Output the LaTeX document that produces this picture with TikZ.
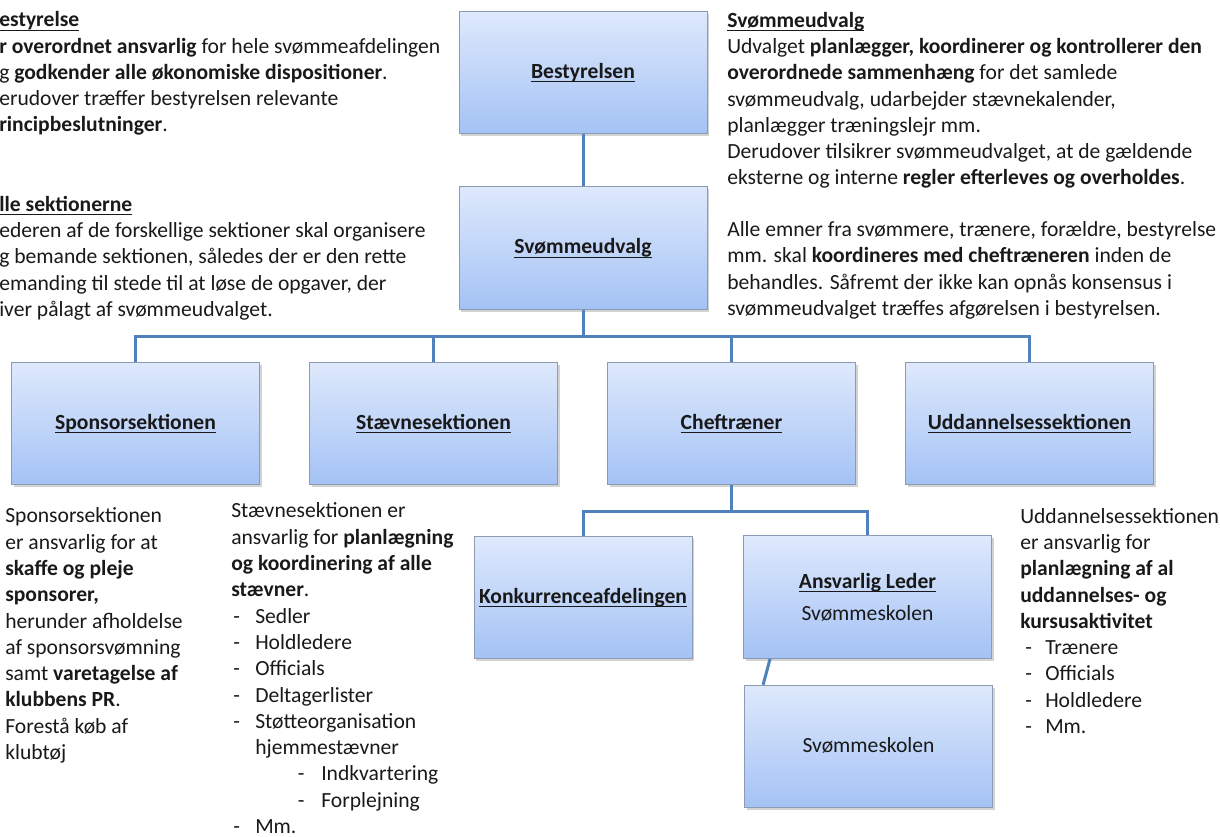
\documentclass[tikz,border=0pt]{standalone}
\usepackage{fontspec}
\setmainfont{Carlito}
\usetikzlibrary{shadows,calc}
\definecolor{boxtop}{RGB}{222,233,252}
\definecolor{boxbot}{RGB}{164,194,245}
\definecolor{boxline}{RGB}{140,155,180}
\definecolor{conncol}{RGB}{79,129,189}
\definecolor{txtcol}{RGB}{25,25,25}
\newcommand{\ulx}[1]{\setbox0\hbox{#1}\rlap{\smash{\rule[-3pt]{\wd0}{0.9pt}}}\box0}
\newcommand{\lbl}[1]{\vphantom{Bg}\ulx{\textbf{#1}}}
\newcommand{\mybody}{\fontsize{16.2pt}{19.72pt}\selectfont\lineskiplimit=-20pt\lineskip=0pt}
\newcommand{\litem}[1]{\hspace*{1.5pt}\makebox[16.5pt][l]{-}#1}
\newcommand{\sitem}[1]{\hspace*{50pt}\makebox[17.5pt][l]{-}#1}
\newcommand{\uitem}[1]{\hspace*{3.75pt}\makebox[15pt][l]{-}#1}
\begin{document}
\begin{tikzpicture}[x=0.75pt,y=-0.75pt,
  orgbox/.style={draw=boxline, line width=0.6pt, top color=boxtop, bottom color=boxbot,
    drop shadow={shadow xshift=1.8pt,shadow yshift=-1.8pt,opacity=0.35},
    minimum width=186pt, minimum height=92pt, inner sep=0pt, align=center,
    font=\mybody, text=txtcol},
  conn/.style={draw=conncol, line width=2.25pt},
  para/.style={anchor=base west, align=left, inner sep=0pt, font=\mybody, text=txtcol}]
\useasboundingbox (0,0) rectangle (1220,837);
\clip (0,0) rectangle (1220,837);

% boxes
\node[orgbox] (best) at (583,72.5) {\lbl{Bestyrelsen}};
\node[orgbox] (svu) at (583,248) {\lbl{Svømmeudvalg}};
\node[orgbox] (spon) at (135.5,423.5) {\lbl{Sponsorsektionen}};
\node[orgbox] (stae) at (433.5,423.5) {\lbl{Stævnesektionen}};
\node[orgbox] (chef) at (731.5,423.5) {\lbl{Cheftræner}};
\node[orgbox] (udd) at (1029.5,423.5) {\lbl{Uddannelsessektionen}};
\node[orgbox, minimum width=163.5pt] (konk) at (583,597.5) {\lbl{Konkurrenceafdelingen}};
\node[orgbox] (ansv) at (867.5,597) {\ulx{\textbf{Ansvarlig Leder}}\\[4.3pt]Svømmeskolen};
\node[orgbox] (skole) at (868.5,746.5) {\vphantom{Bg}Svømmeskolen};

% connectors
\coordinate (b1) at (583,337);
\coordinate (b2) at (731.5,511);
\draw[conn] (best.south) -- (svu.north);
\draw[conn] (svu.south) -- (b1);
\draw[conn] (spon.north) |- (b1);
\draw[conn] (stae.north) |- (b1);
\draw[conn] (chef.north) |- (b1);
\draw[conn] (udd.north) |- (b1);
\draw[conn] (chef.south) -- (b2);
\draw[conn] (konk.north) |- (b2);
\draw[conn] (ansv.north) |- (b2);
\draw[conn] ($(ansv.south west)+(27,0)$) -- ($(skole.north west)+(19,0)$);

% texts (anchor = baseline of last line)
\node[para] (t1) at (-1,132) {\ulx{\textbf{estyrelse}}\\
\textbf{r overordnet ansvarlig} for hele svømmeafdelingen\\
g \textbf{godkender alle økonomiske dispositioner}.\\
erudover træffer bestyrelsen relevante\\
\textbf{rincipbeslutninger}.};
\node[para] (t2) at (-1,316.5) {\ulx{\textbf{lle sektionerne}}\\
ederen af de forskellige sektioner skal organisere\\
g bemande sektionen, således der er den rette\\
emanding til stede til at løse de opgaver, der\\
iver pålagt af svømmeudvalget.};
\node[para] (t3) at (727,185) {\ulx{\textbf{Svømmeudvalg}}\\
Udvalget \textbf{planlægger, koordinerer og kontrollerer den}\\
\textbf{overordnede sammenhæng} for det samlede\\
svømmeudvalg, udarbejder stævnekalender,\\
planlægger træningslejr mm.\\
Derudover tilsikrer svømmeudvalget, at de gældende\\
eksterne og interne \textbf{regler efterleves og overholdes}.};
\node[para] (t4) at (727,315.5) {Alle emner fra svømmere, trænere, forældre, bestyrelse\\
mm. skal \textbf{koordineres med cheftræneren} inden de\\
behandles. Såfremt der ikke kan opnås konsensus i\\
svømmeudvalget træffes afgørelsen i bestyrelsen.};
\node[para] (t5) at (5,759.5) {Sponsorsektionen\\
er ansvarlig for at\\
\textbf{skaffe og pleje}\\
\textbf{sponsorer,}\\
herunder afholdelse\\
af sponsorsvømning\\
samt \textbf{varetagelse af}\\
\textbf{klubbens PR}.\\
Forestå køb af\\
klubtøj};
\node[para] (t6) at (231,833.5) {Stævnesektionen er\\
ansvarlig for \textbf{planlægning}\\
\textbf{og koordinering af alle}\\
\textbf{stævner}.\\
\litem{Sedler}\\
\litem{Holdledere}\\
\litem{Officials}\\
\litem{Deltagerlister}\\
\litem{Støtteorganisation}\\
\hspace*{18pt}hjemmestævner\\
\sitem{Indkvartering}\\
\sitem{Forplejning}\\
\litem{Mm.}};
\node[para] (t7) at (1020,733.5) {Uddannelsessektionen\\
er ansvarlig for\\
\textbf{planlægning af al}\\
\textbf{uddannelses- og}\\
\textbf{kursusaktivitet}\\
\uitem{Trænere}\\
\uitem{Officials}\\
\uitem{Holdledere}\\
\uitem{Mm.}};
\end{tikzpicture}
\end{document}
